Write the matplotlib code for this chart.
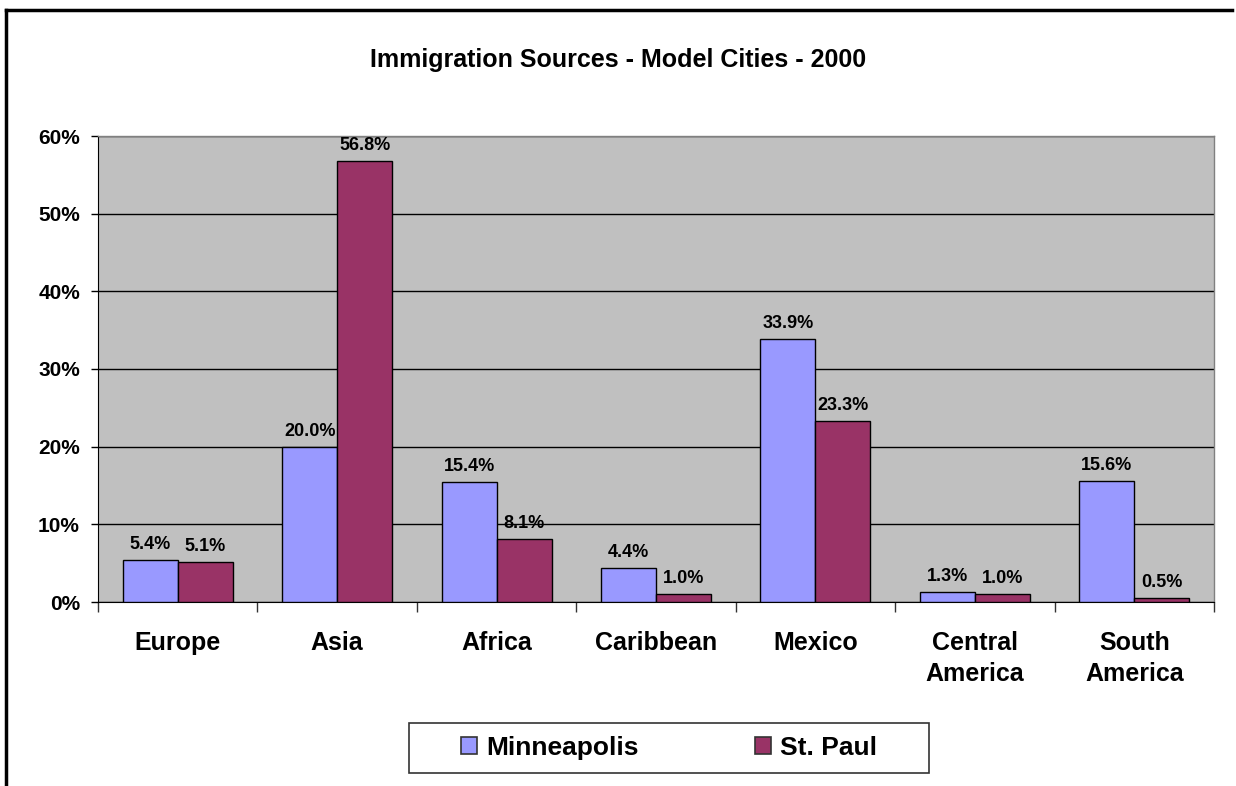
import matplotlib
matplotlib.use("Agg")
import matplotlib.pyplot as plt
import numpy as np
from matplotlib.lines import Line2D
from matplotlib.patches import Patch, Rectangle

plt.rcParams['font.family'] = ['Liberation Sans', 'DejaVu Sans']

categories = ["Europe", "Asia", "Africa", "Caribbean", "Mexico", "Central\nAmerica", "South\nAmerica"]
minneapolis = [5.4, 20.0, 15.4, 4.4, 33.9, 1.3, 15.6]
st_paul = [5.1, 56.8, 8.1, 1.0, 23.3, 1.0, 0.5]
series_names = ["Minneapolis", "St. Paul"]
y_ticks = [0, 10, 20, 30, 40, 50, 60]
title = "Immigration Sources - Model Cities - 2000"

col_m = "#9999FF"
col_s = "#993366"

W, H = 1236, 786
fig = plt.figure(figsize=(W/100, H/100), dpi=100)
ax = fig.add_axes([98/W, 1-602/H, (1214-98)/W, (602-136)/H])
ax.set_facecolor("#C0C0C0")

x = np.arange(len(categories))
w = 0.345
b1 = ax.bar(x - w/2, minneapolis, w, color=col_m, edgecolor="black", linewidth=1, zorder=3)
b2 = ax.bar(x + w/2, st_paul, w, color=col_s, edgecolor="black", linewidth=1, zorder=3)

for bars, vals in ((b1, minneapolis), (b2, st_paul)):
    for r, v in zip(bars, vals):
        ax.annotate(f"{v:.1f}%", (r.get_x() + r.get_width()/2, v),
                    xytext=(0, 5), textcoords="offset points",
                    ha="center", va="bottom", fontsize=13, fontweight="bold", zorder=4)

ax.set_xlim(-0.5, len(categories) - 0.5)
ax.set_ylim(0, 60)
ax.set_yticks(y_ticks)
ax.set_yticklabels([f"{t}%" for t in y_ticks], fontsize=15, fontweight="bold")
ax.yaxis.grid(True, color="black", linewidth=1, zorder=1)
ax.set_axisbelow(True)

ax.set_xticks(np.arange(len(categories) + 1) - 0.5)
ax.set_xticklabels([])
ax.set_xticks(x, minor=True)
ax.set_xticklabels(categories, minor=True, fontsize=18, fontweight="bold", linespacing=1.35)
ax.tick_params(axis="x", which="major", direction="out", length=7, width=1, color="#333333")
ax.tick_params(axis="x", which="minor", length=0, pad=21)
ax.tick_params(axis="y", direction="out", length=5, width=1, pad=8)
for lbl in ax.get_xticklabels(minor=True):
    lbl.set_verticalalignment("top")

for s in ("top", "right"):
    ax.spines[s].set_color("#808080")
    ax.spines[s].set_linewidth(1)
ax.spines["left"].set_color("black")
ax.spines["bottom"].set_color("black")

fig.text(0.5, 1-60/H, title, ha="center", va="center", fontsize=18, fontweight="bold")

# legend box
fig.add_artist(Rectangle((409/W, 1-773/H), (929-409)/W, 50/H, transform=fig.transFigure,
                         facecolor="white", edgecolor="#333333", linewidth=1.2, zorder=5))
handles = [Patch(facecolor=col_m, edgecolor="#333333", linewidth=1.2),
           Patch(facecolor=col_s, edgecolor="#333333", linewidth=1.2)]
leg = fig.legend(handles, series_names, loc="center", bbox_to_anchor=(669/W, 1-748/H),
                 ncol=2, prop={"weight": "bold", "size": 19},
                 handlelength=0.6, handleheight=0.6, handletextpad=0.35, columnspacing=4.4,
                 frameon=False)
leg.set_zorder(6)

fig.add_artist(Line2D([6/W, 1232/W], [1-10/H, 1-10/H], color="black", linewidth=2.5, transform=fig.transFigure))
fig.add_artist(Line2D([6/W, 6/W], [0, 1-10/H], color="black", linewidth=2.5, transform=fig.transFigure))

fig.savefig("out.png", dpi=100, facecolor="white")
